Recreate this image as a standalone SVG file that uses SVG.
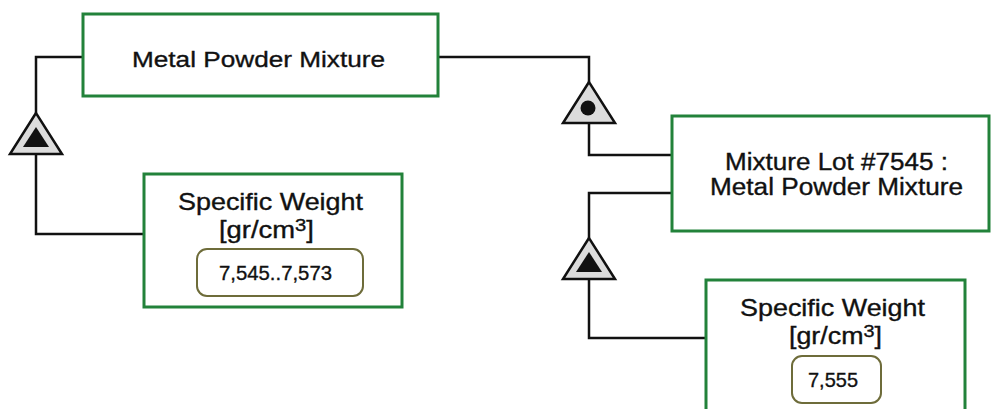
<svg xmlns="http://www.w3.org/2000/svg" width="991" height="409" viewBox="0 0 991 409">
<style>
.box{fill:#fff;stroke:#22823a;stroke-width:3}
.val{fill:#fff;stroke:#6e6c3a;stroke-width:2}
.t{font-family:"Liberation Sans",Arial,sans-serif;fill:#111;text-anchor:middle;stroke:#111;stroke-width:0.35}
.c{fill:none;stroke:#111;stroke-width:2.5}
.tri{fill:#dcdcdc;stroke:#111;stroke-width:2.5;stroke-linejoin:miter}
.in{fill:#111}
</style>
<rect width="991" height="409" fill="#fff"/>
<g id="connectors">
<polyline class="c" points="83,57 36,57 36,113"/>
<polyline class="c" points="36,154 36,234 144,234"/>
<polyline class="c" points="438,57 589,57 589,82"/>
<polyline class="c" points="589,123 589,155 672,155"/>
<polyline class="c" points="672,193 589,193 589,238"/>
<polyline class="c" points="589,279 589,338 706,338"/>
</g>
<g id="gen1">
<polygon class="tri" points="36,113 10,154 62,154"/>
<polygon class="in" points="36,127 23,147 49,147"/>
</g>
<g id="inst1">
<polygon class="tri" points="589,82 563,123 615,123"/>
<circle class="in" cx="588" cy="108" r="7.5"/>
</g>
<g id="gen2">
<polygon class="tri" points="589,238 563,279 615,279"/>
<polygon class="in" points="589,252 576,272 602,272"/>
</g>
<g id="metal-powder-mixture">
<rect class="box" x="83" y="14" width="355" height="82"/>
<text class="t" x="258.5" y="67" font-size="22.5" textLength="253" lengthAdjust="spacingAndGlyphs">Metal Powder Mixture</text>
</g>
<g id="specific-weight-1">
<rect class="box" x="144" y="174" width="258" height="133"/>
<text class="t" x="270.5" y="210" font-size="24" textLength="185" lengthAdjust="spacingAndGlyphs">Specific Weight</text>
<text class="t" x="266.5" y="238" font-size="23" textLength="95" lengthAdjust="spacingAndGlyphs">[gr/cm<tspan font-size="17" dy="-7">3</tspan><tspan dy="7">]</tspan></text>
<rect class="val" x="197" y="249" width="166" height="47" rx="10"/>
<text class="t" x="275.5" y="280" font-size="20.5" textLength="113" lengthAdjust="spacingAndGlyphs">7,545..7,573</text>
</g>
<g id="mixture-lot">
<rect class="box" x="672" y="116" width="317" height="115"/>
<text class="t" x="836.5" y="170" font-size="23" textLength="223" lengthAdjust="spacingAndGlyphs">Mixture Lot #7545 :</text>
<text class="t" x="836.5" y="195" font-size="23" textLength="253" lengthAdjust="spacingAndGlyphs">Metal Powder Mixture</text>
</g>
<g id="specific-weight-2">
<rect class="box" x="706" y="280" width="259" height="140"/>
<text class="t" x="832.5" y="316" font-size="24" textLength="185" lengthAdjust="spacingAndGlyphs">Specific Weight</text>
<text class="t" x="835.5" y="344" font-size="23" textLength="93" lengthAdjust="spacingAndGlyphs">[gr/cm<tspan font-size="17" dy="-7">3</tspan><tspan dy="7">]</tspan></text>
<rect class="val" x="792" y="356" width="89" height="47" rx="10"/>
<text class="t" x="833" y="386.5" font-size="21" textLength="50" lengthAdjust="spacingAndGlyphs">7,555</text>
</g>
</svg>
